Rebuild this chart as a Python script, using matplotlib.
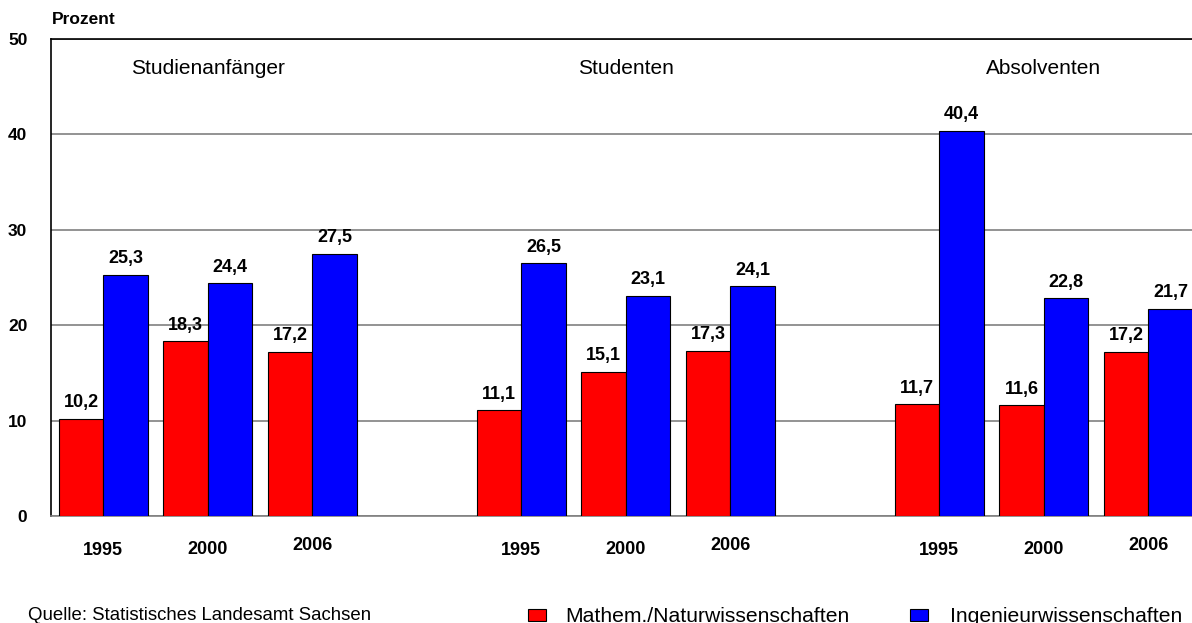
import numpy as np
import matplotlib
matplotlib.use('Agg')
import matplotlib.pyplot as plt
from matplotlib.patches import Rectangle

plt.rcParams['font.family'] = ['Liberation Sans', 'DejaVu Sans']

# data
groups = ['Studienanfänger', 'Studenten', 'Absolventen']
years = ['1995', '2000', '2006']
math_nat = [10.2, 18.3, 17.2, 11.1, 15.1, 17.3, 11.7, 11.6, 17.2]
ingenieur = [25.3, 24.4, 27.5, 26.5, 23.1, 24.1, 40.4, 22.8, 21.7]
series_names = ['Mathem./Naturwissenschaften', 'Ingenieurwissenschaften']
source = 'Quelle: Statistisches Landesamt Sachsen'

W, H = 1192, 623
fig = plt.figure(figsize=(W / 100, H / 100), dpi=100)


def fx(px):
    return px / W


def fy(py):
    return 1 - py / H


# axes placed in pixel terms; right edge runs past the figure like the original
ax = fig.add_axes([fx(51), fy(516), 1149.5 / W, 477 / H])

slots = np.array([g * 4 + i for g in range(len(groups)) for i in range(len(years))])
w = 0.426

ax.bar(slots - w, math_nat, width=w, align='edge', color='#ff0000',
       edgecolor='black', linewidth=0.8, zorder=3)
ax.bar(slots, ingenieur, width=w, align='edge', color='#0000ff',
       edgecolor='black', linewidth=0.8, zorder=3)


def fmt(v):
    return f'{v:.1f}'.replace('.', ',')


for x, v in zip(slots - w / 2, math_nat):
    ax.annotate(fmt(v), (x, v), xytext=(0, 16), textcoords='offset pixels',
                ha='center', va='center', fontsize=13, fontweight='bold')
for x, v in zip(slots + w / 2, ingenieur):
    ax.annotate(fmt(v), (x, v), xytext=(0, 16), textcoords='offset pixels',
                ha='center', va='center', fontsize=13, fontweight='bold')

# year labels sit at slightly different heights in the original
year_drop = [34.5, 33.5, 30]
for k, x in enumerate(slots):
    i = k % len(years)
    ax.annotate(years[i], (x, 0), xytext=(0, -year_drop[i]), textcoords='offset pixels',
                ha='center', va='center', fontsize=13, fontweight='bold',
                annotation_clip=False)

for g, name in enumerate(groups):
    ax.text(g * 4 + 1, 46.9, name, ha='center', va='center', fontsize=15)

ax.set_xlim(-0.5, 10.5)
ax.set_ylim(0, 50)
ax.set_xticks([])
ax.set_yticks([0, 10, 20, 30, 40, 50])
ax.tick_params(axis='y', length=0, pad=17, labelsize=12.5)
for lab in ax.get_yticklabels():
    lab.set_fontweight('bold')
ax.yaxis.grid(True, color='#808080', linewidth=1.2, zorder=0)
ax.set_axisbelow(True)

for side in ['left', 'top']:
    ax.spines[side].set_color('black')
    ax.spines[side].set_linewidth(1.2)
ax.spines['bottom'].set_color('#808080')
ax.spines['bottom'].set_linewidth(1.2)
ax.spines['right'].set_visible(False)

fig.text(fx(52), fy(20), 'Prozent', ha='left', va='center', fontsize=12.5, fontweight='bold')

# source and legend
fig.text(fx(28), fy(620), source, ha='left', va='baseline', fontsize=13.4)
colors = ['#ff0000', '#0000ff']
sq_x = [528, 910]
txt_x = [565, 950]
for name, c, sx, tx in zip(series_names, colors, sq_x, txt_x):
    fig.patches.append(Rectangle((fx(sx), fy(621)), 18 / W, 12 / H,
                                 transform=fig.transFigure, facecolor=c,
                                 edgecolor='black', linewidth=0.8))
    fig.text(fx(tx), fy(622), name, ha='left', va='baseline', fontsize=15.2)

fig.savefig('out.png', dpi=100)
